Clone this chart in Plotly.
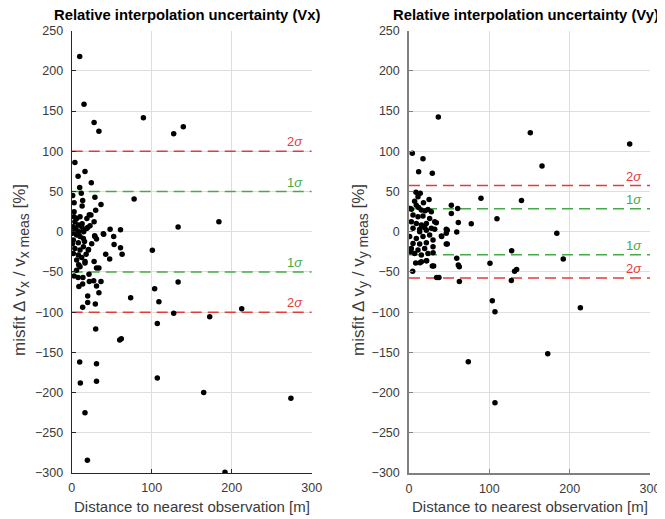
import plotly.graph_objects as go

# ---------------- data ----------------
vx_dist = [10, 15.4, 28, 34, 89.6, 127.5, 139.5,
           4, 8, 16.6, 24.5, 10, 12, 1.2, 13.7, 29, 36.6, 3, 13, 30, 22, 3, 78, 133, 184,
           48, 61, 39.5, 52.5, 53, 61, 63, 42.5, 47.5, 100.8, 29, 31, 21, 28, 31, 34,
           8.7, 16.6, 8, 14, 9, 13.7, 21.6, 22, 27.5, 31, 36.6, 34, 20, 20, 13.7, 29.5,
           73.7, 103.7, 109, 133, 127.5, 107, 172.5, 212.5, 30, 60, 62, 10, 31, 10.8, 31,
           107, 165, 274, 16.6, 19.6, 191.6,
           2.9, 6.2, 10.4, 4, 8.3, 12.5, 2, 4, 14.6, 18.7, 22.9, 6.2, 10.4, 14.6, 2, 8.3,
           4, 10.4, 14.6, 20.8, 2, 8.3, 12.5, 6.2, 16.6, 10.4,
           24, 19, 28, 13, 20, 5.4, 40, 9, 15, 28.7, 1, 16, 18, 25, 6, 1, 3]
vx_misfit = [218, 158.5, 136, 125, 141.8, 122, 130.6,
             86, 69, 75, 61, 55, 48, 45, 39, 43, 34, 36, 32, 26.6, 21, 25, 40.7, 6, 12.5,
             3, 2.5, -2.5, -6, -16, -20, -28, -28, -34, -23, -6, -9, -22, -37, -45, -45,
             -41, -39, -57, -57, -68, -65, -53, -62, -61, -67.5, -62, -76, -80, -88, -94, -90,
             -82, -71, -87, -62.6, -101.5, -114, -105.7, -95.7, -121, -134.7, -133, -162, -164, -188, -186,
             -182, -200, -207, -225, -284, -299,
             18.7, 16.6, 18.7, 12.4, 8.3, 6.2, 6.2, 2, 2, 4, 7.5, -4, -6, -8.3, -10.4, -13.6,
             -20.7, -22.8, -18.6, -22.8, -27, -29, -32, -35, -37, -43.5,
             20.8, 16.6, 12.4, 10, 5.4, 3, -3, 0, 0, -5, -15, -12, -28, -15, -48, -2, -55]

vy_dist = [36.5, 151, 274.7, 165.6, 4.1, 17.4, 12, 29, 8.7, 14, 11.2, 89.6, 140, 52.7, 60.6,
           52.7, 109.5, 77.5, 61.4, 47.7, 59.4, 184, 40.7, 47.7, 127.8, 192, 59.4, 61.4, 62.6,
           100.8, 134,
           2.5, 30, 4.6, 8.3, 13.7, 22, 29, 34.4, 37.3, 62.7, 131.4, 127.4, 103.7, 107, 213.3,
           73.8, 172.7, 107,
           1.6, 9.1, 15.4, 23.6, 27.8, 5, 11.2, 17.4, 25.7, 32, 2.9, 9.1, 15.4, 21.6, 34, 5,
           13.3, 19.5, 27.8, 46.4, 13.3, 21.6, 32, 0.8, 9.1, 17.4, 25.7, 40.3, 46.4, 5, 13.3,
           21.6, 29.9, 46.4, 2.9, 11.2, 19.5, 29.9, 7, 15.4, 23.6, 15.4, 21.6, 30.7,
           3, 12, 20, 7, 18, 25]
vy_misfit = [142.7, 123, 109, 81.7, 97.5, 90.8, 74.7, 72.6, 49, 48, 43.5, 41.5, 39, 33, 29,
             22.8, 16.2, 10, 11.6, 2, -0.4, -2, -6, -15.3, -23.6, -34, -33, -41.4, -43.5,
             -39.3, -46.8,
             -25, -26, -49, -39, -38.6, -36, -42.7, -57, -57, -62, -49, -60.5, -85.8, -99.5, -94.5,
             -161.7, -151.7, -212.7,
             29, 33, 27, 27.8, 25, 20.8, 18.7, 19.5, 16.6, 12.5, 12.5, 10.4, 8.3, 10.4, 11.2, 4.2,
             3, 5.4, 4.2, 3, 0, 2, 3, -6, -8.3, -6, -4, -5.4, -2, -14.5, -15.3,
             -13.7, -10.4, -15.3, -20.7, -22.8, -20.7, -18.6, -27, -29, -27, -37.3, -36, -42.7,
             28, 30, 26, 38, 36, 40]

line_x = [0, 300]
vx_sigma = [50, 100]
vy_sigma = [28.7, 57.5]
sigma_labels = ["1<i>σ</i>", "2<i>σ</i>"]
x_ticks = [0, 100, 200, 300]
y_ticks = [250, 200, 150, 100, 50, 0, -50, -100, -150, -200, -250, -300]
titles = ["Relative interpolation uncertainty (Vx)", "Relative interpolation uncertainty (Vy)"]
x_title = "Distance to nearest observation [m]"
components = ["x", "y"]

# page is 665x519 but the html body has an 8px margin -> figure is offset by 8px
OFF = 8
W, H = 665 - OFF, 519 - OFF
GREEN = "rgb(70,170,70)"
RED = "rgb(225,60,60)"
FONT = "Liberation Sans, Arial, sans-serif"
TXT = "#3a3a3a"


def px_x(p):
    return (p - OFF) / W


def px_y(p):
    return 1 - (p - OFF) / H


def sub(t):
    return f"<sub><span style='font-size:14px'>{t}</span></sub>"


fig = go.Figure()
panels = [
    ("x", "y", vx_dist, vx_misfit, vx_sigma),
    ("x2", "y2", vy_dist, vy_misfit, vy_sigma),
]
annotations = []
for xa, ya, d, m, sig in panels:
    for s, col, lab in zip(sig, [GREEN, RED], sigma_labels):
        for sign in (1, -1):
            fig.add_trace(go.Scatter(x=line_x, y=[sign * s, sign * s], mode="lines",
                                     line=dict(color=col, width=1.5, dash="11px,6px"),
                                     xaxis=xa, yaxis=ya, showlegend=False, hoverinfo="skip"))
            annotations.append(dict(x=292, y=sign * s, xref=xa, yref=ya, text=lab,
                                    showarrow=False, xanchor="right", yanchor="bottom",
                                    yshift=0, font=dict(color=col, size=13, family=FONT)))
    fig.add_trace(go.Scatter(x=d, y=m, mode="markers",
                             marker=dict(color="black", size=5.5),
                             xaxis=xa, yaxis=ya, showlegend=False))

# page-pixel geometry of the two axes boxes
left_x = [(71.7, 311.7), (409.0, 650.0)]
top_px, bot_px = 30.7, 473.0
ydom = [px_y(bot_px), px_y(top_px)]

title_cx = [187, 526]
ylab_cx = [21, 360]
for i in range(2):
    c = components[i]
    annotations.append(dict(x=px_x(title_cx[i]), y=px_y(15), xref="paper", yref="paper",
                            text="<b>" + titles[i] + "</b>", showarrow=False,
                            xanchor="center", yanchor="middle",
                            font=dict(size=14.8, color="black", family=FONT)))
    cx = (left_x[i][0] + left_x[i][1]) / 2
    annotations.append(dict(x=px_x(cx), y=px_y(506), xref="paper", yref="paper",
                            text=x_title, showarrow=False, xanchor="center", yanchor="middle",
                            font=dict(size=15, color=TXT, family=FONT)))
    ytxt = f"misfit ∆ v{sub(c)} / v{sub(c + ' meas')} [%]"
    annotations.append(dict(x=px_x(ylab_cx[i]), y=px_y(270), xref="paper", yref="paper",
                            text=ytxt, showarrow=False, textangle=-90,
                            xanchor="center", yanchor="middle",
                            font=dict(size=17, color=TXT, family=FONT)))


def xaxis(domain, anchor, linecol, lw):
    return dict(domain=domain, anchor=anchor, range=[0, 300], tickvals=x_ticks,
                showgrid=True, gridcolor="#dedede", gridwidth=1, zeroline=False,
                showline=True, linecolor=linecol, linewidth=lw, ticks="inside", ticklen=4,
                tickcolor=linecol, ticklabelstandoff=3, automargin=False,
                tickfont=dict(size=12.5, color=TXT, family=FONT))


def yaxis(domain, anchor, linecol, lw):
    return dict(domain=domain, anchor=anchor, range=[-300, 250], tickvals=y_ticks,
                showgrid=True, gridcolor="#dedede", gridwidth=1, zeroline=False,
                showline=True, linecolor=linecol, linewidth=lw, ticks="inside", ticklen=4,
                tickcolor=linecol, ticklabelstandoff=5, automargin=False,
                tickfont=dict(size=12.5, color=TXT, family=FONT))


fig.update_layout(
    width=W, height=H,
    margin=dict(l=0, r=0, t=0, b=0),
    paper_bgcolor="white", plot_bgcolor="white",
    font=dict(family=FONT),
    xaxis=xaxis([px_x(left_x[0][0]), px_x(left_x[0][1])], "y", "#262626", 1),
    yaxis=yaxis(ydom, "x", "#262626", 1),
    xaxis2=xaxis([px_x(left_x[1][0]), px_x(left_x[1][1])], "y2", "#808080", 1.5),
    yaxis2=yaxis(ydom, "x2", "#808080", 1.5),
    annotations=annotations,
)

fig.write_html("out.html")
